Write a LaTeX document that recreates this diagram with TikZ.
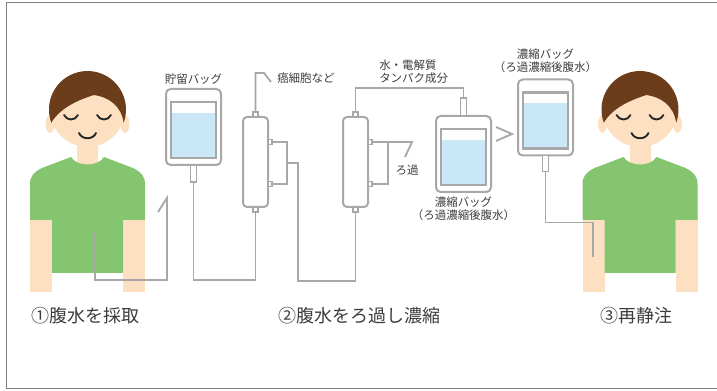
\documentclass[tikz,border=0pt]{standalone}
\usepackage{fontspec}
\setmainfont{Noto Sans CJK JP}
\usetikzlibrary{calc}

\definecolor{tubegray}{RGB}{168,168,168}
\definecolor{framegray}{RGB}{128,128,128}
\definecolor{textgray}{RGB}{60,60,60}
\definecolor{liquid}{RGB}{201,231,246}
\definecolor{skin}{RGB}{253,224,193}
\definecolor{hair}{RGB}{107,61,26}
\definecolor{shirt}{RGB}{133,197,111}

\tikzset{
  tube/.style={draw=tubegray, line width=1.4pt},
  bag/.style={draw=tubegray, line width=1.5pt, fill=white, rounded corners=3.5pt,
    minimum width=41.25pt, minimum height=57pt, inner sep=0pt, outer sep=0pt},
  bagwin/.style={draw=tubegray, line width=1.6pt},
  filter/.style={draw=tubegray, line width=1.5pt, fill=white, rounded corners=3pt,
    minimum width=18.75pt, minimum height=67.5pt, inner sep=0pt, outer sep=0pt},
  port/.style={draw=tubegray, line width=1pt, fill=white, inner sep=0pt, outer sep=0pt,
    minimum width=3.75pt, minimum height=3.75pt},
  note/.style={text=textgray, font=\fontsize{8.6pt}{9.8pt}\selectfont, inner sep=0pt},
  steptext/.style={text=textgray, font=\fontsize{13.5pt}{16pt}\selectfont, inner sep=0pt, anchor=west},
  feature/.style={draw=black!85, line width=1.4pt, line cap=round},
}

% one patient, shifted sideways by #1
\newcommand{\patientfig}[1]{
  \begin{scope}[shift={(#1,0)}]
    % arms, neck, shirt
    \fill[skin] (30,216) rectangle (52,292);
    \fill[skin] (123,216) rectangle (145,292);
    \fill[skin] (77,135) rectangle (98,166);
    \fill[shirt] (30,220) -- (30,184) .. controls (30,176) and (34,172) .. (42,168) -- (71,157)
      .. controls (77,167) and (98,167) .. (104,157) -- (133,168)
      .. controls (141,172) and (145,176) .. (145,184) -- (145,220) -- (123,220) -- (123,273)
      -- (52,273) -- (52,220) -- cycle;
    % head
    \fill[skin] (50,124) ellipse [x radius=4.5, y radius=9];
    \fill[skin] (125,124) ellipse [x radius=4.5, y radius=9];
    \fill[skin] (87.5,109.5) circle [radius=37.5];
    \fill[hair] (51.3,122.7) arc [start angle=160, end angle=380, radius=38.5]
      .. controls (121,105) and (108,97) .. (94,95)
      .. controls (78,100) and (60,108) .. (51.3,122.7) -- cycle;
    % closed eyes and smile
    \draw[feature] (64,115) .. controls (67,121) and (75,121) .. (78,115);
    \draw[feature] (97,115) .. controls (100,121) and (108,121) .. (111,115);
    \draw[feature] (79,133) .. controls (82,140) and (93,140) .. (96,133);
  \end{scope}
}

\begin{document}
\begin{tikzpicture}[x=0.75pt,y=0.75pt,yscale=-1,xscale=1]
\useasboundingbox (0,0) rectangle (717,391);
\draw[framegray, line width=1.1pt] (720,2.5) -- (6.5,2.5) -- (6.5,388.5) -- (720,388.5);

\patientfig{0}
\patientfig{552.5}

% bags
\node[bag] (store) at (193.5,127) {};
\node[bag] (bag2) at (463.5,154) {};
\node[bag] (bag3) at (545.5,117.5) {};
\foreach \b in {store,bag2,bag3} {
  \fill[liquid] ($(\b.north west)+(5,24)$) rectangle ($(\b.south east)+(-5,-7)$);
  \draw[bagwin] ($(\b.north west)+(5,13)$) rectangle ($(\b.south east)+(-5,-7)$);
}
\node[port, anchor=north, minimum width=4.5pt, minimum height=12.75pt] (storeport) at (store.south) {};
\node[port, anchor=south, minimum width=4.5pt, minimum height=13.5pt] (b2port) at (bag2.north) {};
\node[port, anchor=north, minimum width=4.5pt, minimum height=12pt] (b3port) at (bag3.south) {};

% filters
\node[filter] (f1) at (255.5,162) {};
\node[filter] (f2) at (355.5,162) {};
\foreach \f in {f1,f2} {
  \node[port, anchor=south] (\f top) at (\f.north) {};
  \node[port, anchor=north] (\f bot) at (\f.south) {};
  \node[port, anchor=west, minimum width=3pt] (\f p1) at ($(\f.north east)+(0,25)$) {};
  \node[port, anchor=west, minimum width=3pt] (\f p2) at ($(\f.south east)+(0,-23)$) {};
}

% tubes
\coordinate (draw1) at (95,232);
\coordinate (inlet) at (167,198);
\coordinate (waste) at (264,73);
\coordinate (vein) at (593,257);
\draw[tube] (draw1) -- ++(0,48) -| (inlet) -- ++(-9,14);
\draw[tube] (storeport.south) -- ++(0,98) -| (f1bot.south);
\draw[tube] (f1top.north) |- (waste) -- ++(7,9);
\draw[tube] (f1p1.east) -- ++(15,0) coordinate (brk1) |- (f1p2.east);
\draw[tube] ($(brk1)!0.5!(brk1 |- f1p2.east)$) -- ++(11,0) -- ++(0,118) -| (f2bot.south);
\draw[tube] (f2p1.east) -- ++(16,0) coordinate (brk2) |- (f2p2.east);
\draw[tube] (brk2) -- ++(24,0) -- ++(-7,15);
\draw[tube] (f2top.north) -- ++(0,-24) -| (b2port.north);
\draw[tube] (496,127) -- (512,134) -- (496,141);
\draw[tube] (b3port.south) -- ++(0,51) -| (vein);

% labels
\node[note] (storelbl) at (193.5,79) {貯留バッグ};
\node[note, anchor=west] (wastelbl) at (277,78) {癌細胞など};
\node[note, anchor=west, align=left] (passlbl) at (379,72) {水・電解質\\タンパク成分};
\node[note] (filtlbl) at (407,170) {ろ過};
\node[note, align=center] (bag2lbl) at (463.5,209) {濃縮バッグ\\（ろ過濃縮後腹水）};
\node[note, align=center] (bag3lbl) at (545.5,61) {濃縮バッグ\\（ろ過濃縮後腹水）};

\node[steptext] (step1) at (31,316) {①腹水を採取};
\node[steptext] (step2) at (278,316) {②腹水をろ過し濃縮};
\node[steptext] (step3) at (600,316) {③再静注};
\end{tikzpicture}
\end{document}
